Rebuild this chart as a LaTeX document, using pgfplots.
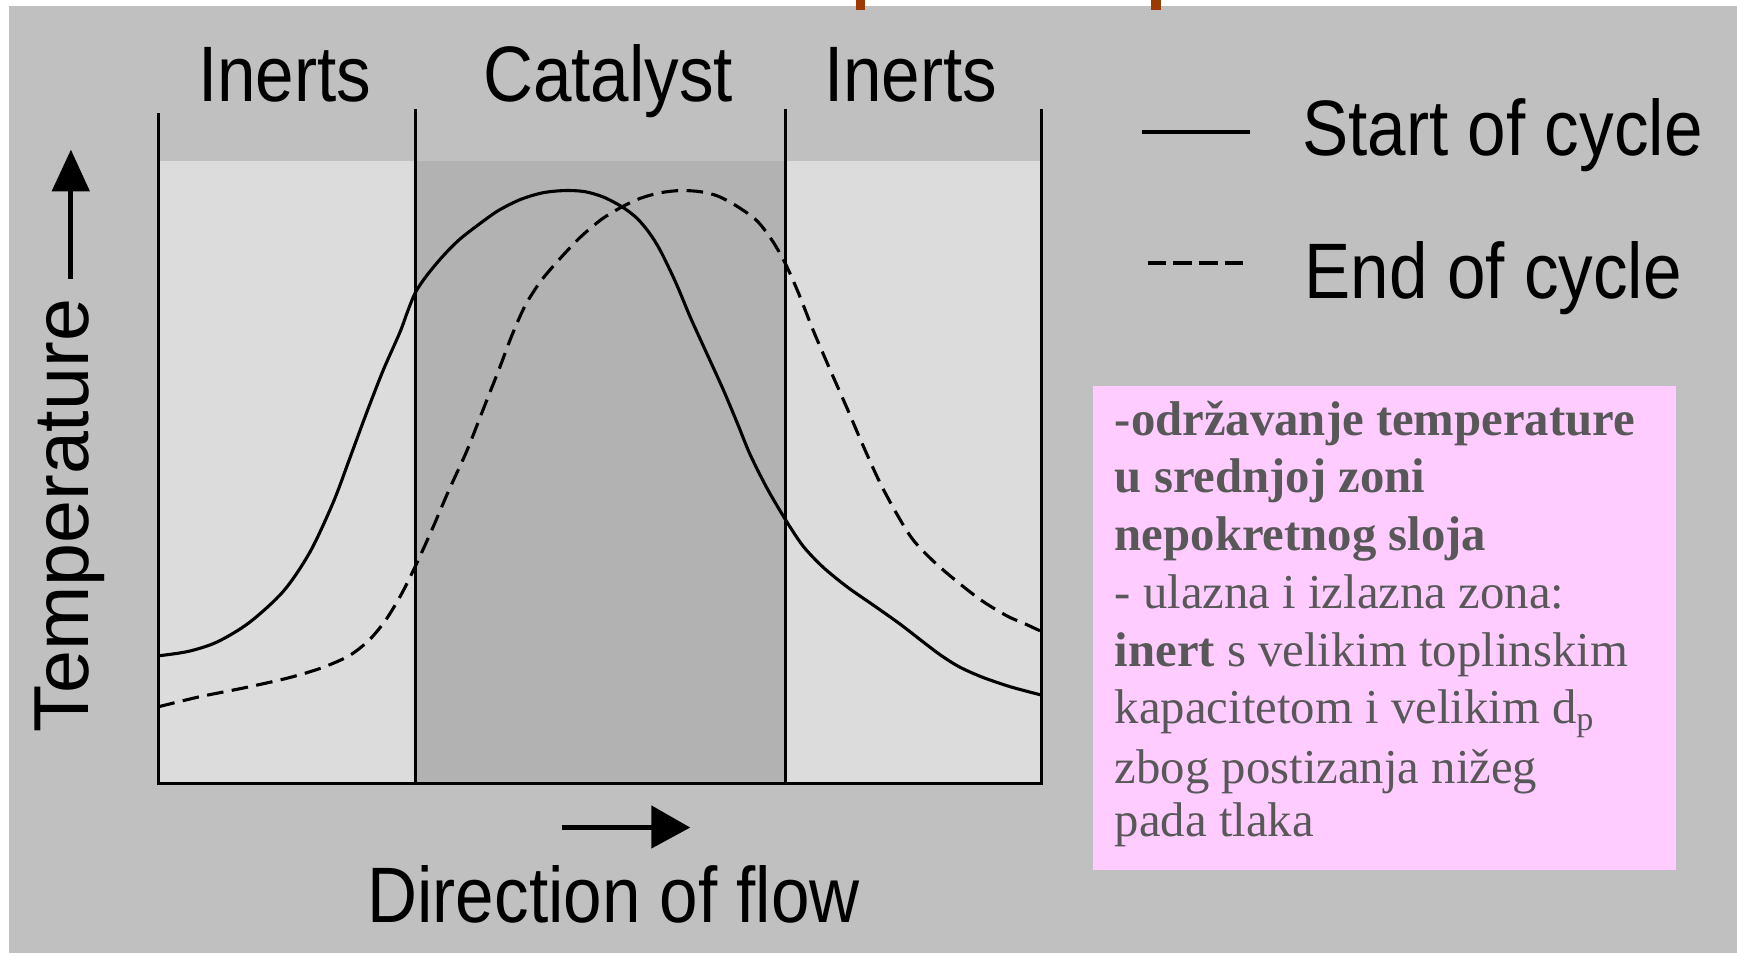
\documentclass[border=0pt]{standalone}
\usepackage{pgfplots}
\pgfplotsset{compat=1.18}
\usepackage{fontspec}
\setmainfont{Liberation Sans}
\newfontfamily\labfont[FakeStretch=0.88]{Liberation Sans}
\newfontfamily\tempfont[FakeStretch=0.99]{Liberation Sans}
\newfontfamily\boxfont{Liberation Serif}
\definecolor{bgc}{HTML}{C0C0C0}
\definecolor{inertc}{HTML}{DCDCDC}
\definecolor{catc}{HTML}{B2B2B2}
\definecolor{pinkc}{HTML}{FFCCFF}
\definecolor{redc}{HTML}{9C3A04}
\definecolor{boxtxt}{HTML}{585858}
\begin{document}
\begin{tikzpicture}
\begin{axis}[scale only axis, width=392pt, height=215pt,
  xmin=0, xmax=1568, ymin=0, ymax=860, y dir=reverse,
  hide axis, clip=false, no markers]
% backgrounds
\addplot[draw=none, fill=white] coordinates {(0,0) (1568,0) (1568,860) (0,860)} -- cycle;
\addplot[draw=none, fill=bgc] coordinates {(8,5.4) (1568,5.4) (1568,860) (8,860)} -- cycle;
\addplot[draw=none, fill=redc] coordinates {(773,0) (781,0) (781,9) (773,9)} -- cycle;
\addplot[draw=none, fill=redc] coordinates {(1039,0) (1048,0) (1048,9) (1039,9)} -- cycle;
% zones
\addplot[draw=none, fill=inertc] coordinates {(143,145.3) (375,145.3) (375,707) (143,707)} -- cycle;
\addplot[draw=none, fill=catc] coordinates {(375,145.3) (709,145.3) (709,707) (375,707)} -- cycle;
\addplot[draw=none, fill=inertc] coordinates {(709,145.3) (940,145.3) (940,707) (709,707)} -- cycle;
% pink box
\addplot[draw=none, fill=pinkc] coordinates {(987,348) (1513,348) (1513,785) (987,785)} -- cycle;
% curves
\addplot[black, line width=0.7pt, smooth, line join=round] coordinates {
(143,592) (170,588) (196,579.5) (225,562) (256,533.5) (280,498) (301,453)
(316,413) (331,372.4) (346,334) (361,300) (368,281) (375,264) (385,249)
(400,231) (415,216) (433,202) (450,190) (470,180) (490,174) (510,172)
(528,173) (545,178) (562,187) (575,197) (586,210) (596,226) (610,255)
(623,286) (638,319) (653,352) (666,383) (677,410) (692,440) (709,469)
(725,493) (743,512) (765,530) (788,546) (812,563) (834,580) (850,592)
(866,602) (886,611) (909,619) (925,623.5) (940,627.4)};
\addplot[black, line width=0.7pt, smooth, line join=round, dash pattern=on 3.75pt off 1.9pt] coordinates {
(143,638) (180,629) (220,621) (260,612) (290,603) (315,592) (333,578)
(348,560) (362,537) (375,511) (390,478) (405,443) (421,408) (436,370)
(451,332) (462,303) (474,276) (488,254) (505,234) (524,214) (543,198)
(561,187) (578,179) (596,174) (614,172) (632,173) (648,177) (665,186)
(683,199) (697,217) (709,238) (721,265) (734,298) (749,333) (764,367)
(779,402) (794,435) (809,463) (824,487) (843,507) (864,525) (886,542)
(909,556) (925,563) (940,570)};
% frame
\addplot[black, line width=0.7pt] coordinates {(143,102) (143,707) (940,707) (940,98)};
\addplot[black, line width=0.7pt] coordinates {(375,98) (375,707)};
\addplot[black, line width=0.7pt] coordinates {(709,98) (709,707)};
% legend lines
\addplot[black, line width=1.0pt] coordinates {(1031,119) (1128,119)};
\addplot[black, line width=0.9pt, dash pattern=on 4.2pt off 1.6pt] coordinates {(1036,237) (1125,237)};
% arrows
\addplot[black, line width=1.1pt] coordinates {(64,252) (64,168)};
\addplot[draw=none, fill=black] coordinates {(46.6,172.7) (81.2,172.7) (64,135.2)} -- cycle;
\addplot[black, line width=1.0pt] coordinates {(507,747) (592,747)};
\addplot[draw=none, fill=black] coordinates {(588,727) (588,766) (623,747)} -- cycle;
% texts
\node[anchor=base, inner sep=0pt, font=\labfont\fontsize{17.75pt}{20pt}\selectfont] at (axis cs:257,92) {Inerts};
\node[anchor=base, inner sep=0pt, font=\labfont\fontsize{17.75pt}{20pt}\selectfont] at (axis cs:549,92) {Catalyst};
\node[anchor=base, inner sep=0pt, font=\labfont\fontsize{17.75pt}{20pt}\selectfont] at (axis cs:822,92) {Inerts};
\node[anchor=base west, inner sep=0pt, font=\labfont\fontsize{17.75pt}{20pt}\selectfont] at (axis cs:1175,140) {Start of cycle};
\node[anchor=base west, inner sep=0pt, font=\labfont\fontsize{17.75pt}{20pt}\selectfont] at (axis cs:1177,269) {End of cycle};
\node[anchor=base west, inner sep=0pt, font=\labfont\fontsize{17.75pt}{20pt}\selectfont] at (axis cs:331,833) {Direction of flow};
\node[anchor=base west, rotate=90, inner sep=0pt, font=\tempfont\fontsize{17.6pt}{20pt}\selectfont] at (axis cs:80,662) {Temperature};
% box text
\begin{scope}[every node/.style={anchor=base west, inner sep=0pt, text=boxtxt, font=\boxfont\fontsize{11pt}{13pt}\selectfont}]
\node at (axis cs:1005.6,393) {\bfseries -održavanje temperature};
\node at (axis cs:1005.6,445) {\bfseries u srednjoj zoni};
\node at (axis cs:1005.6,497) {\bfseries nepokretnog sloja};
\node at (axis cs:1005.6,549) {- ulazna i izlazna zona:};
\node at (axis cs:1005.6,602) {\textbf{inert} s velikim toplinskim};
\node at (axis cs:1005.6,653) {kapacitetom i velikim d\textsubscript{p}};
\node at (axis cs:1005.6,707) {zbog postizanja nižeg};
\node at (axis cs:1005.6,755) {pada tlaka};
\end{scope}
\end{axis}
\end{tikzpicture}
\end{document}
